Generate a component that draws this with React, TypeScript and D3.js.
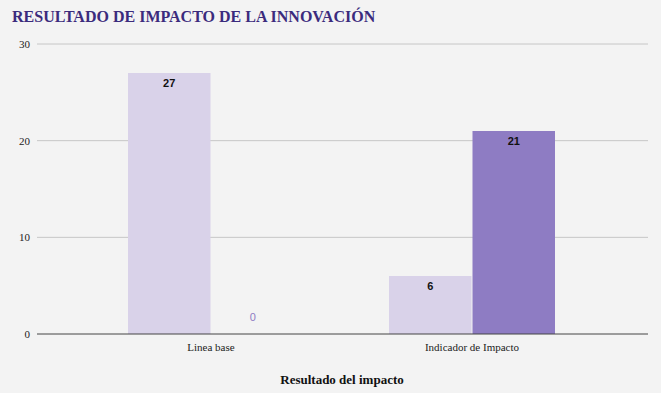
import React from "react";
import * as d3 from "d3";

const categories = ["Linea base", "Indicador de Impacto"];
const series1 = [27, 6];
const series2 = [0, 21];
const yTicks = [0, 10, 20, 30];
const title = "RESULTADO DE IMPACTO DE LA INNOVACIÓN";
const xTitle = "Resultado del impacto";

const SERIF = "'Liberation Serif', 'Times New Roman', 'DejaVu Serif', serif";
const SANS = "'Liberation Sans', Arial, sans-serif";

export default function App() {
  const W = 661, H = 393;
  const left = 37, right = 648, top = 44, bottom = 334;
  const y = d3.scaleLinear().domain([0, 30]).range([bottom, top]);
  const x = d3.scaleBand().domain(categories).range([80.5, 602.5]);
  const bw = x.bandwidth();
  const inner = d3.scaleBand().domain(["a", "b"]).range([(bw - 166) / 2, (bw + 166) / 2]).paddingInner(0.012);
  const colors = ["#d9d2e9", "#8e7cc3"];
  const all = [series1, series2];
  return (
    <svg width={W} height={H} style={{ position: "absolute", left: 0, top: 0, background: "#f3f3f3" }}>
      <rect width={W} height={H} fill="#f3f3f3" />
      <text x={12} y={22} style={{ fontFamily: SERIF }} fontWeight="bold" fontSize={16} fill="#3b2b7d">{title}</text>
      {yTicks.map((t) => (
        <g key={t}>
          {t !== 0 && <line x1={left} x2={right} y1={y(t)} y2={y(t)} stroke="#c6c6c6" strokeWidth={1} />}
          <text x={30} y={y(t) + 4} textAnchor="end" style={{ fontFamily: SERIF }} fontSize={11} fill="#222">{t}</text>
        </g>
      ))}
      {categories.map((c, i) =>
        all.map((s, j) => {
          const v = s[i];
          const bx = (x(c) as number) + (inner(j === 0 ? "a" : "b") as number);
          const w = inner.bandwidth();
          return (
            <g key={c + j}>
              {v > 0 && <rect x={bx} y={y(v)} width={w} height={bottom - y(v)} fill={colors[j]} />}
              <text
                x={bx + w / 2}
                y={v > 0 ? y(v) + 14 : y(v) - 13}
                textAnchor="middle"
                style={{ fontFamily: SANS }}
                fontWeight={v > 0 ? "bold" : "normal"}
                fontSize={11}
                fill={v > 0 ? "#111" : "#8e7cc3"}
              >
                {v}
              </text>
            </g>
          );
        })
      )}
      <line x1={left} x2={right} y1={bottom} y2={bottom} stroke="#444" strokeWidth={1} />
      {categories.map((c) => (
        <text key={c} x={(x(c) as number) + bw / 2} y={351} textAnchor="middle" style={{ fontFamily: SERIF }} fontSize={11} fill="#222">{c}</text>
      ))}
      <text x={342} y={384} textAnchor="middle" style={{ fontFamily: SERIF }} fontWeight="bold" fontSize={13} fill="#111">{xTitle}</text>
    </svg>
  );
}
